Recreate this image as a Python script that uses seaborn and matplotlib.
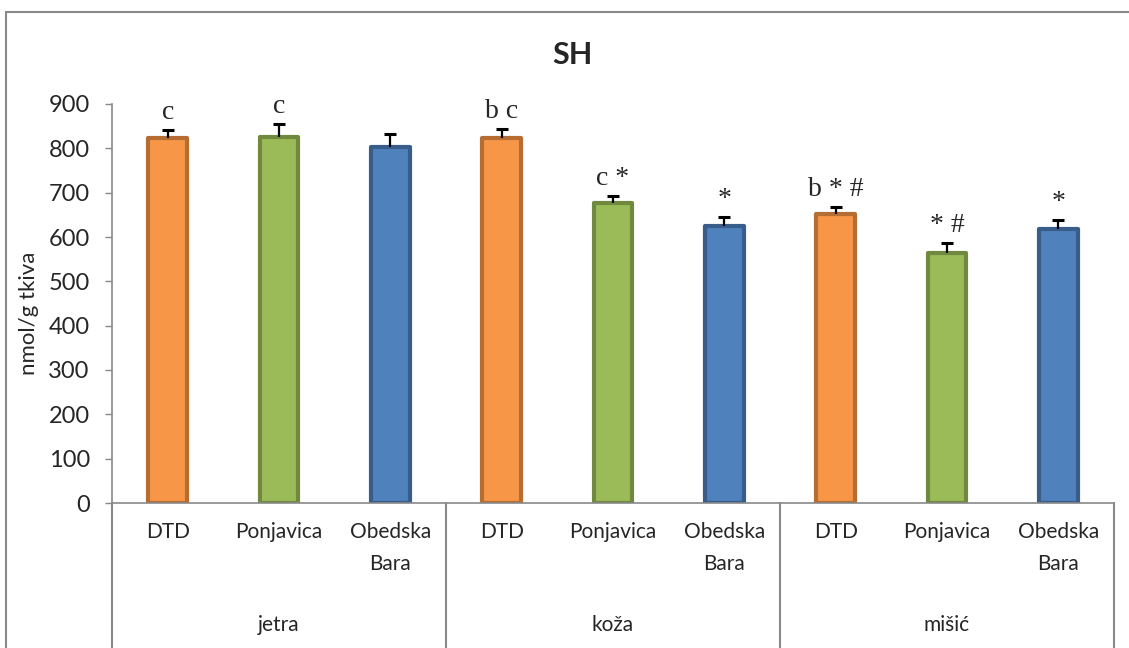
"""SH levels (nmol/g tkiva) in liver, skin and muscle for three sites.

Produces out.png
"""
import matplotlib
matplotlib.use("Agg")
import matplotlib.pyplot as plt
import pandas as pd
import seaborn as sns
from matplotlib.colors import to_hex
from matplotlib.patches import Rectangle

tissues = ["jetra", "koža", "mišić"]
sites = ["DTD", "Ponjavica", "Obedska\nBara"]
sh_mean = [823, 825, 803, 823, 676, 624, 652, 565, 618]
sh_err = [19, 30, 30, 20, 17, 20, 15, 21, 21]
marks = ["c", "c", "", "b c", "c *", "*", "b * #", "* #", "*"]
yticks = [0, 100, 200, 300, 400, 500, 600, 700, 800, 900]

FILL = {"DTD": "#f79646", "Ponjavica": "#9bbb59", "Obedska\nBara": "#4f81bd"}
EDGE = {"DTD": "#b66d31", "Ponjavica": "#71893f", "Obedska\nBara": "#385d8a"}
GRAY = "#898989"

df = pd.DataFrame({
    "tissue": [t for t in tissues for _ in sites],
    "site": sites * len(tissues),
    "sh": sh_mean,
    "err": sh_err,
})
df["slot"] = df["tissue"] + " " + df["site"]

sns.set_style("white")
plt.rcParams["font.family"] = ["Lato", "DejaVu Sans"]

fig = plt.figure(figsize=(11.29, 6.48), dpi=100)
ax = fig.add_axes([112 / 1129, 1 - 503 / 648, 1002 / 1129, 399 / 648])

sns.barplot(data=df, x="slot", y="sh", hue="site", order=list(df["slot"]),
            hue_order=sites, palette=FILL, dodge=False, width=0.35,
            saturation=1, errorbar=None, legend=False, ax=ax)

# excel-like darker outline per series
inv = {to_hex(v): k for k, v in FILL.items()}
for p in ax.patches:
    site = inv.get(to_hex(p.get_facecolor()))
    if site is not None:
        p.set_edgecolor(EDGE[site])
        p.set_linewidth(3)
        p.set_joinstyle("round")

# upper error bars only
pos = list(range(len(df)))
eb = ax.errorbar(pos, df["sh"], yerr=[[0] * len(df), df["err"]], fmt="none",
                 ecolor="black", elinewidth=1.6, capsize=4, capthick=2.2,
                 zorder=5)
eb[1][0].set_visible(False)

for i, (m, top) in enumerate(zip(marks, df["sh"] + df["err"])):
    if m:
        ax.annotate(m, (i, top), xytext=(0, 8), textcoords="offset points",
                    ha="center", va="baseline", fontsize=20,
                    family=["Liberation Serif", "DejaVu Serif"])

ax.set_ylim(0, 900)
ax.set_xlim(-0.5, len(df) - 0.5)
ax.set_yticks(yticks)
ax.set_xticks([])
ax.set_xlabel("")
ax.set_ylabel("")
ax.tick_params(axis="y", direction="out", length=5, width=1, color=GRAY,
               labelsize=17, pad=11, left=True)
for side in ["top", "right"]:
    ax.spines[side].set_visible(False)
for side in ["left", "bottom"]:
    ax.spines[side].set_color(GRAY)
    ax.spines[side].set_linewidth(1.2)

# two-level category axis below the plot
xt = ax.get_xaxis_transform()
for i, s in enumerate(df["site"]):
    ax.text(i, -0.048, s, transform=xt, ha="center", va="top",
            fontsize=15, linespacing=1.75)
n = len(sites)
for g, t in enumerate(tissues):
    ax.text(g * n + (n - 1) / 2, -0.306, t, transform=xt, ha="center",
            va="center", fontsize=15)
for g in range(len(tissues) + 1):
    ax.plot([g * n - 0.5] * 2, [0, -0.4], transform=xt, color=GRAY,
            lw=1.5, clip_on=False)

fig.text(572 / 1129, 1 - 55 / 648, "SH", ha="center", va="center",
         fontsize=22, fontweight="bold")
fig.text(29 / 1129, 1 - 313 / 648, "nmol/g tkiva", ha="center",
         va="center", rotation=90, fontsize=16)

# chart area border (only top and left edges fall inside the image)
fig.patches.append(Rectangle((6 / 1129, -0.5), 2.0, 0.5 + 1 - 12 / 648,
                             transform=fig.transFigure, fill=False,
                             edgecolor=GRAY, linewidth=1.5))

fig.savefig("out.png", dpi=100)
plt.close(fig)
